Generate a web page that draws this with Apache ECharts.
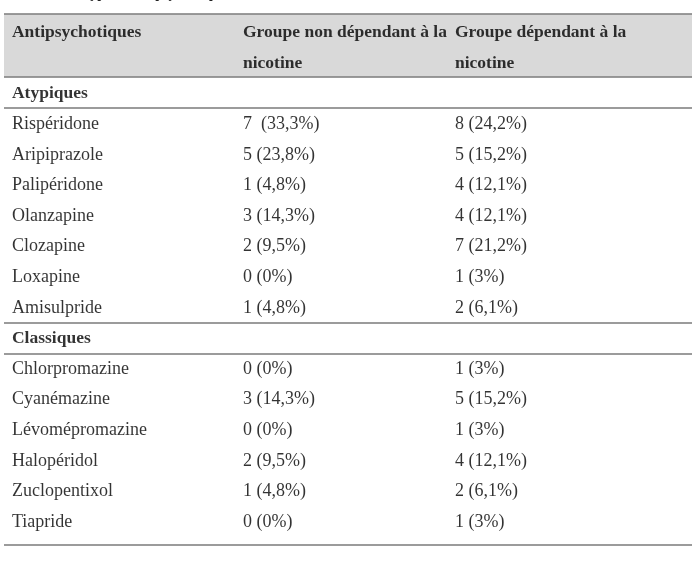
<!DOCTYPE html>
<html><head><meta charset="utf-8">
<script src="https://cdn.jsdelivr.net/npm/echarts@6/dist/echarts.min.js"></script>
<style>html,body{margin:0;padding:0;background:#fff}#c{width:695px;height:577px}</style>
</head><body><div id="c"></div><script>
// ---- data ----
const tableTitle = "Tableau 5 : Types d'antipsychotiques";
const headerLine1 = ['Antipsychotiques', 'Groupe non dépendant à la', 'Groupe dépendant à la'];
const headerLine2 = ['', 'nicotine', 'nicotine'];
const groupNames = ['Atypiques', 'Classiques'];
const atypiques = ['Rispéridone', 'Aripiprazole', 'Palipéridone', 'Olanzapine', 'Clozapine', 'Loxapine', 'Amisulpride'];
const atypNonDepN = [7, 5, 1, 3, 2, 0, 1];
const atypNonDepPct = [33.3, 23.8, 4.8, 14.3, 9.5, 0, 4.8];
const atypDepN = [8, 5, 4, 4, 7, 1, 2];
const atypDepPct = [24.2, 15.2, 12.1, 12.1, 21.2, 3, 6.1];
const classiques = ['Chlorpromazine', 'Cyanémazine', 'Lévomépromazine', 'Halopéridol', 'Zuclopentixol', 'Tiapride'];
const classNonDepN = [0, 3, 0, 2, 1, 0];
const classNonDepPct = [0, 14.3, 0, 9.5, 4.8, 0];
const classDepN = [1, 5, 1, 4, 2, 1];
const classDepPct = [3, 15.2, 3, 12.1, 6.1, 3];

// ---- layout (not data) ----
const W = 695, H = 577;
const ROW0 = 32.5, ROW_H = 30.6;
const COL_X = [0.0116, 0.3474, 0.6555];
const FONT = "'Liberation Serif', 'Times New Roman', serif";
const FS = 18, FS_BOLD = 17.5;

function fmt(n, p, gap) { return n + (gap ? '  (' : ' (') + String(p).replace('.', ',') + '%)'; }

const rows = [];
rows.push({ cells: headerLine1, bold: true });
rows.push({ cells: headerLine2, bold: true });
rows.push({ cells: [groupNames[0], '', ''], bold: true });
atypiques.forEach((d, i) => rows.push({ cells: [d, fmt(atypNonDepN[i], atypNonDepPct[i], i === 0), fmt(atypDepN[i], atypDepPct[i])], bold: false }));
rows.push({ cells: [groupNames[1], '', ''], bold: true });
classiques.forEach((d, i) => rows.push({ cells: [d, fmt(classNonDepN[i], classNonDepPct[i]), fmt(classDepN[i], classDepPct[i])], bold: false }));

const classRow = 3 + atypiques.length, lastRow = rows.length - 1;
const seps = [-0.6, 1.45, 2.45, classRow - 0.5, classRow + 0.5, lastRow + 0.75];

const textSeries = [0, 1, 2].map(c => ({
  type: 'scatter', symbolSize: 0, z: 5, silent: true,
  data: rows.map((r, i) => ({ value: [COL_X[c], i], cell: r.cells[c],
    label: { fontWeight: r.bold ? 'bold' : 'normal', fontSize: r.bold ? FS_BOLD : FS } })),
  label: {
    show: true, position: 'right', distance: 0,
    formatter: p => p.data.cell,
    color: '#000', fontFamily: FONT, fontSize: FS
  }
}));

const option = {
  animation: false,
  backgroundColor: '#fff',
  grid: { left: 4, right: 3, top: 0, bottom: 0 },
  xAxis: { type: 'value', min: 0, max: 1, show: false },
  yAxis: { type: 'value', inverse: true, min: -ROW0 / ROW_H, max: (H - ROW0) / ROW_H, show: false },
  graphic: [{
    type: 'text', left: 12, top: -13, silent: true,
    style: { text: tableTitle, fill: '#222', font: 'bold 14px ' + FONT }
  }],
  series: [{
    type: 'scatter', data: [], z: 1, silent: true,
    markArea: {
      silent: true, itemStyle: { color: '#d9d9d9' },
      data: [[{ coord: [0, seps[0]] }, { coord: [1, seps[1]] }]]
    },
    markLine: {
      silent: true, symbol: 'none', label: { show: false },
      lineStyle: { color: '#7a7a7a', width: 1.6, type: 'solid' },
      data: seps.map(y => [{ coord: [0, y] }, { coord: [1, y] }])
    }
  }].concat(textSeries)
};
const chart = echarts.init(document.getElementById('c'), null, { renderer: 'canvas' });
chart.setOption(option);
</script></body></html>
